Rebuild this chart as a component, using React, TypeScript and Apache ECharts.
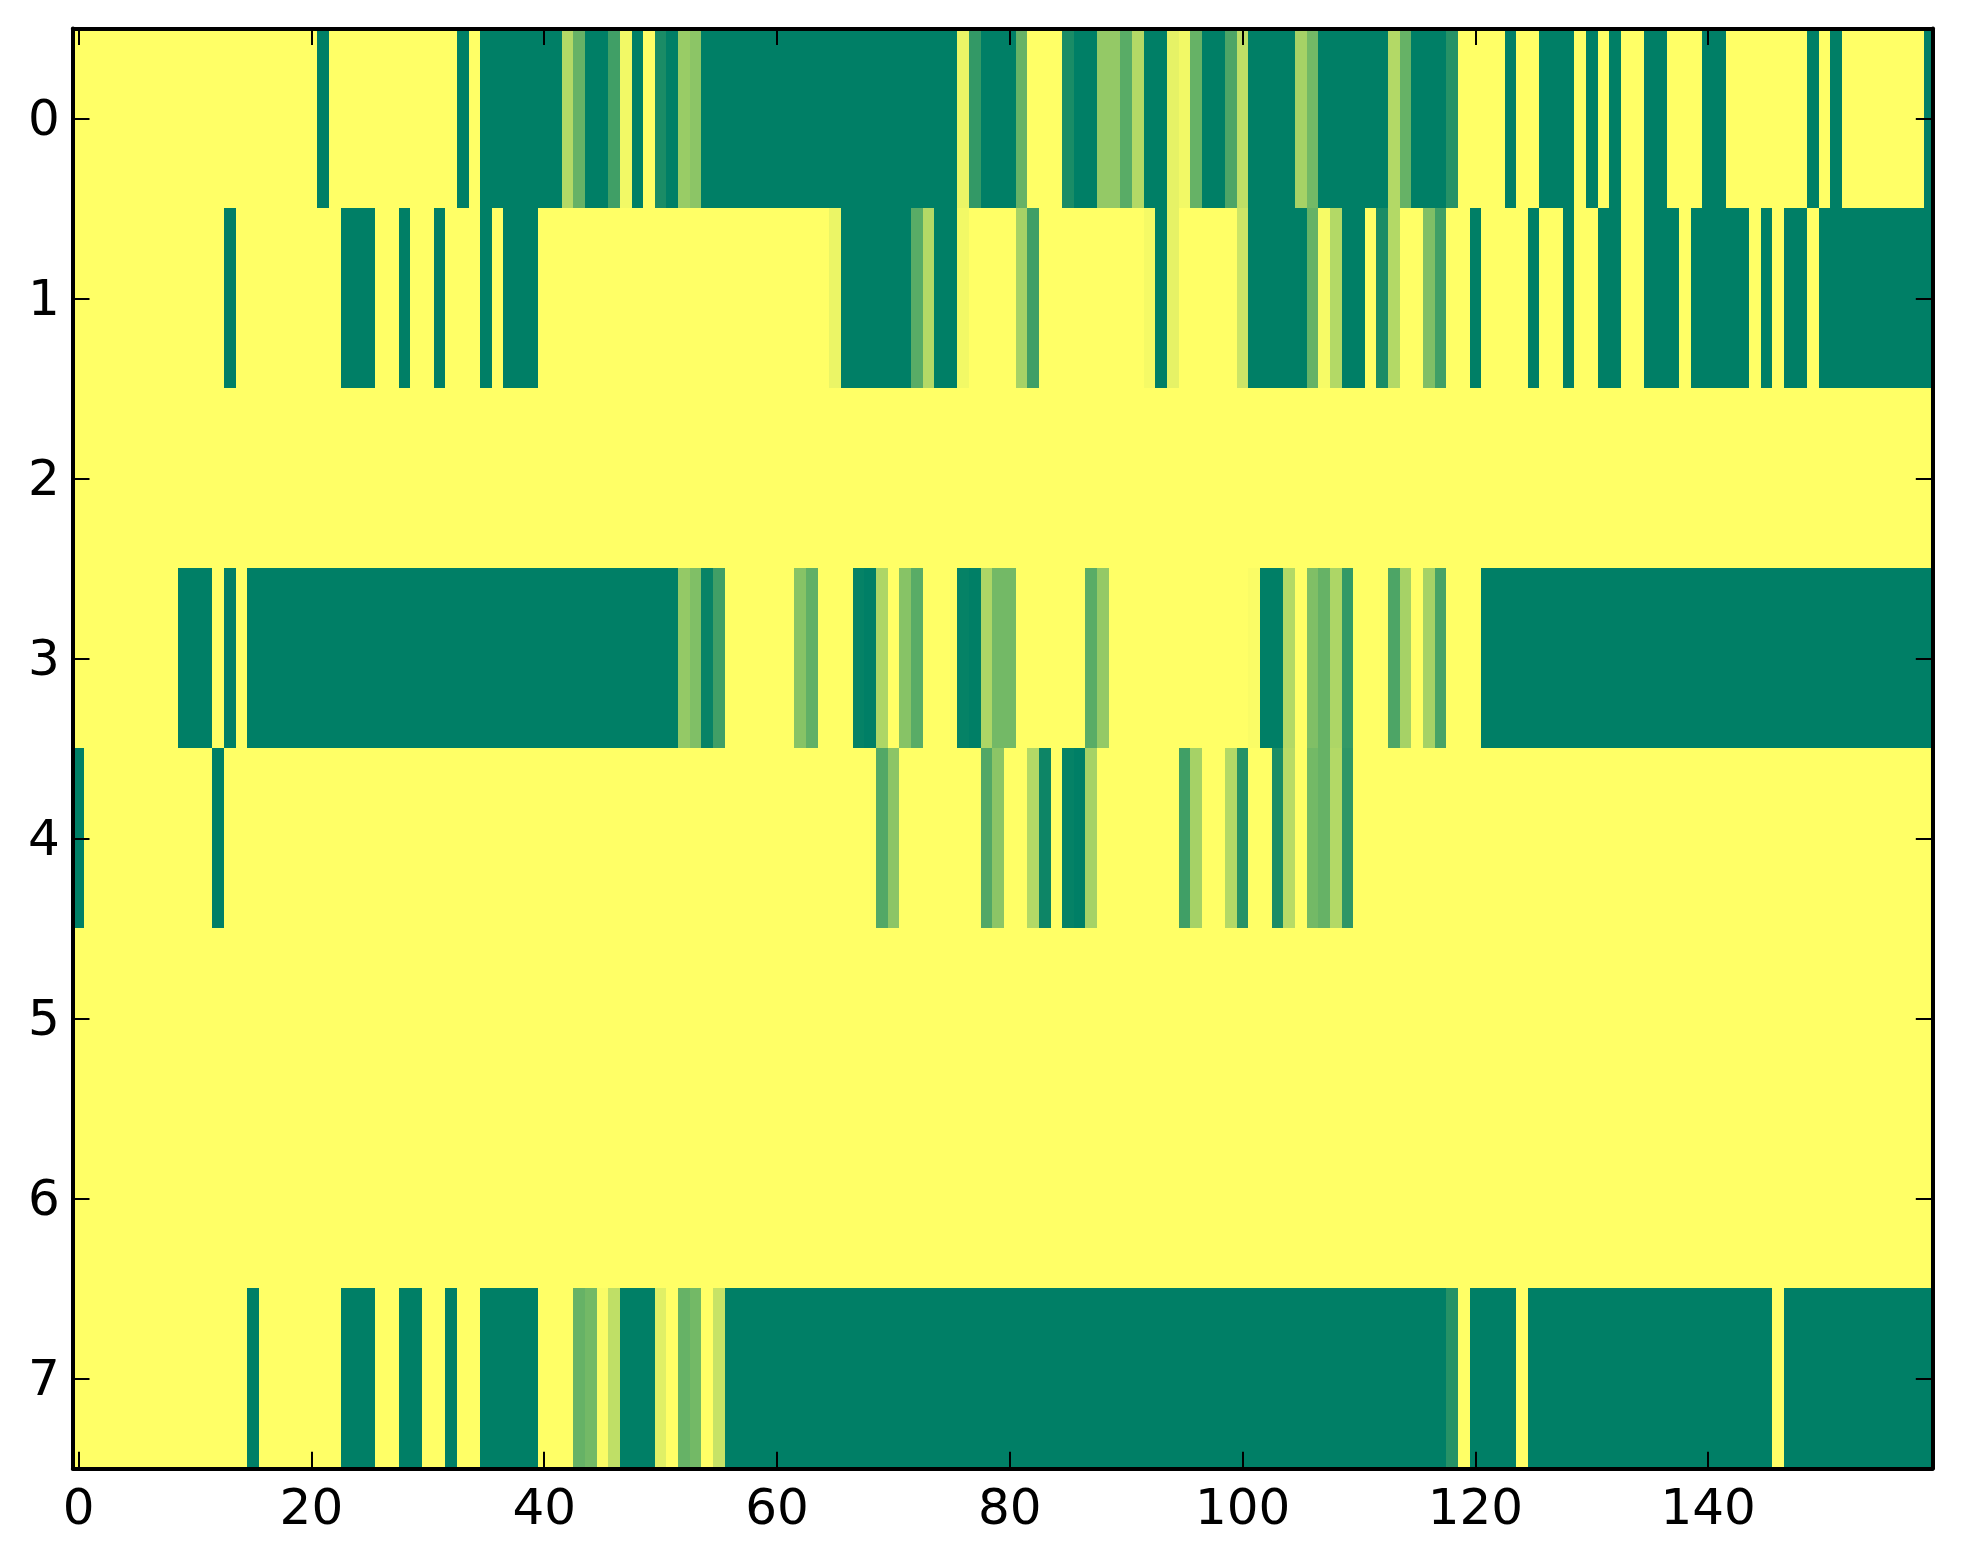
import React, { useEffect, useRef } from "react";
import * as echarts from "echarts";

const xTicks = [0, 20, 40, 60, 80, 100, 120, 140];
const yTicks = [0, 1, 2, 3, 4, 5, 6, 7];

const row0 = [
  0,0,0,0,0,0,0,0,0,0,
  0,0,0,0,0,0,0,0,0,0,
  0,1,0,0,0,0,0,0,0,0,
  0,0,0,1,0,1,1,1,1,1,
  1,1,.3,.6,1,1,.75,.05,1,0,
  .9,1,.4,.45,1,1,1,1,1,1,
  1,1,1,1,1,1,1,1,1,1,
  1,1,1,1,1,1,.08,.8,1,1,
  1,.6,0,0,0,.9,1,1,.42,.42,
  .65,.3,1,1,.1,.05,.6,1,1,.7,
  .25,1,1,1,1,.35,.55,1,1,1,
  1,1,1,.3,.6,1,1,1,.85,0,
  0,0,0,1,0,0,1,1,1,0,
  1,0,1,0,0,1,1,0,0,0,
  1,1,0,0,0,0,0,0,0,1,
  0,1,0,0,0,0,0,0,0,1,
];
const row1 = [
  0,0,0,0,0,0,0,0,0,0,
  0,0,0,1,0,0,0,0,0,0,
  0,0,0,1,1,1,0,0,1,0,
  0,1,0,0,0,1,0,1,1,1,
  0,0,0,0,0,0,0,0,0,0,
  0,0,0,0,0,0,0,0,0,0,
  0,0,0,0,0,.08,1,1,1,1,
  1,1,.65,.3,1,1,.05,0,0,0,
  0,.35,.75,0,0,0,0,0,0,0,
  0,0,.04,1,.1,0,0,0,0,0,
  .2,1,1,1,1,1,.6,.03,.3,1,
  1,0,.9,.3,0,0,.5,.75,0,0,
  1,0,0,0,0,1,0,0,1,0,
  0,1,1,0,0,1,1,1,0,1,
  1,1,1,1,0,1,0,1,1,0,
  1,1,1,1,1,1,1,1,1,1,
];
const row2 = [
  0,0,0,0,0,0,0,0,0,0, 0,0,0,0,0,0,0,0,0,0, 0,0,0,0,0,0,0,0,0,0, 0,0,0,0,0,0,0,0,0,0,
  0,0,0,0,0,0,0,0,0,0, 0,0,0,0,0,0,0,0,0,0, 0,0,0,0,0,0,0,0,0,0, 0,0,0,0,0,0,0,0,0,0,
  0,0,0,0,0,0,0,0,0,0, 0,0,0,0,0,0,0,0,0,0, 0,0,0,0,0,0,0,0,0,0, 0,0,0,0,0,0,0,0,0,0,
  0,0,0,0,0,0,0,0,0,0, 0,0,0,0,0,0,0,0,0,0, 0,0,0,0,0,0,0,0,0,0, 0,0,0,0,0,0,0,0,0,0,
];
const row3 = [
  0,0,0,0,0,0,0,0,0,1,
  1,1,0,1,0,1,1,1,1,1,
  1,1,1,1,1,1,1,1,1,1,
  1,1,1,1,1,1,1,1,1,1,
  1,1,1,1,1,1,1,1,1,1,
  1,1,.42,.5,.97,.75,0,0,0,0,
  0,0,.47,.62,0,0,0,.98,1,.32,
  0,.47,.65,0,0,0,.98,1,.32,.55,
  .55,0,0,0,0,0,0,.65,.42,0,
  0,0,0,0,0,0,0,0,0,0,
  0,.02,1,1,.3,0,.5,.6,.32,.8,
  0,0,0,.7,.35,0,.35,.72,0,0,
  0,1,1,1,1,1,1,1,1,1,
  1,1,1,1,1,1,1,1,1,1,
  1,1,1,1,1,1,1,1,1,1,
  1,1,1,1,1,1,1,1,1,1,
];
const row4 = [
  1,0,0,0,0,0,0,0,0,0,
  0,0,1,0,0,0,0,0,0,0,
  0,0,0,0,0,0,0,0,0,0,
  0,0,0,0,0,0,0,0,0,0,
  0,0,0,0,0,0,0,0,0,0,
  0,0,0,0,0,0,0,0,0,0,
  0,0,0,0,0,0,0,0,0,.68,
  .45,0,0,0,0,0,0,0,.68,.45,
  0,0,.3,.95,0,.98,1,.35,0,0,
  0,0,0,0,0,.75,.35,0,0,.3,
  .85,0,0,.9,.28,0,.55,.6,.3,.82,
  0,0,0,0,0,0,0,0,0,0,
  0,0,0,0,0,0,0,0,0,0,
  0,0,0,0,0,0,0,0,0,0,
  0,0,0,0,0,0,0,0,0,0,
  0,0,0,0,0,0,0,0,0,0,
];
const row5 = [
  0,0,0,0,0,0,0,0,0,0, 0,0,0,0,0,0,0,0,0,0, 0,0,0,0,0,0,0,0,0,0, 0,0,0,0,0,0,0,0,0,0,
  0,0,0,0,0,0,0,0,0,0, 0,0,0,0,0,0,0,0,0,0, 0,0,0,0,0,0,0,0,0,0, 0,0,0,0,0,0,0,0,0,0,
  0,0,0,0,0,0,0,0,0,0, 0,0,0,0,0,0,0,0,0,0, 0,0,0,0,0,0,0,0,0,0, 0,0,0,0,0,0,0,0,0,0,
  0,0,0,0,0,0,0,0,0,0, 0,0,0,0,0,0,0,0,0,0, 0,0,0,0,0,0,0,0,0,0, 0,0,0,0,0,0,0,0,0,0,
];
const row6 = [
  0,0,0,0,0,0,0,0,0,0, 0,0,0,0,0,0,0,0,0,0, 0,0,0,0,0,0,0,0,0,0, 0,0,0,0,0,0,0,0,0,0,
  0,0,0,0,0,0,0,0,0,0, 0,0,0,0,0,0,0,0,0,0, 0,0,0,0,0,0,0,0,0,0, 0,0,0,0,0,0,0,0,0,0,
  0,0,0,0,0,0,0,0,0,0, 0,0,0,0,0,0,0,0,0,0, 0,0,0,0,0,0,0,0,0,0, 0,0,0,0,0,0,0,0,0,0,
  0,0,0,0,0,0,0,0,0,0, 0,0,0,0,0,0,0,0,0,0, 0,0,0,0,0,0,0,0,0,0, 0,0,0,0,0,0,0,0,0,0,
];
const row7 = [
  0,0,0,0,0,0,0,0,0,0,
  0,0,0,0,0,1,0,0,0,0,
  0,0,0,1,1,1,0,0,1,1,
  0,0,1,0,0,1,1,1,1,1,
  0,0,0,.6,.55,.02,.25,1,1,1,
  .12,0,.6,.55,0,.22,1,1,1,1,
  1,1,1,1,1,1,1,1,1,1,
  1,1,1,1,1,1,1,1,1,1,
  1,1,1,1,1,1,1,1,1,1,
  1,1,1,1,1,1,1,1,1,1,
  1,1,1,1,1,1,1,1,1,1,
  1,1,1,1,1,1,1,1,.85,0,
  1,1,1,1,0,1,1,1,1,1,
  1,1,1,1,1,1,1,1,1,1,
  1,1,1,1,1,1,0,1,1,1,
  1,1,1,1,1,1,1,1,1,1,
];
const rows = [row0, row1, row2, row3, row4, row5, row6, row7];

const TEXT = { color: "#000", fontFamily: "DejaVu Sans", fontSize: 50 };

function renderCell(_: unknown, api: any) {
  const col = api.value(0);
  const row = api.value(1);
  const a = api.coord([col - 0.5, row - 0.5]);
  const b = api.coord([col + 0.5, row + 0.5]);
  const x = Math.round(a[0]);
  const y = Math.round(a[1]);
  return {
    type: "rect",
    shape: { x, y, width: Math.round(b[0]) - x, height: Math.round(b[1]) - y },
    style: { fill: api.visual("color") },
  };
}

export default function App() {
  const ref = useRef<HTMLDivElement>(null);
  useEffect(() => {
    const chart = echarts.init(ref.current!, null, { renderer: "svg" });
    const data: number[][] = [];
    rows.forEach((r, y) => r.forEach((v, x) => data.push([x, y, v])));
    const xBase = {
      type: "value",
      min: -0.5,
      max: 159.27,
      z: 10,
      splitLine: { show: false },
      axisLine: { show: true, onZero: false, lineStyle: { color: "#000", width: 4 } },
      axisTick: { show: true, inside: true, length: 16.7, lineStyle: { color: "#000", width: 2 }, customValues: xTicks },
    };
    const yBase = {
      type: "value",
      min: -0.5,
      max: 7.5,
      inverse: true,
      z: 10,
      splitLine: { show: false },
      axisLine: { show: true, onZero: false, lineStyle: { color: "#000", width: 4 } },
      axisTick: { show: true, inside: true, length: 16.7, lineStyle: { color: "#000", width: 2 }, customValues: yTicks },
    };
    chart.setOption({
      animation: false,
      backgroundColor: "#fff",
      grid: { left: 72.8, top: 28.4, width: 1859.7, height: 1440, containLabel: false },
      xAxis: [
        { ...xBase, position: "bottom", axisLabel: { ...TEXT, show: true, margin: 14, customValues: xTicks } },
        { ...xBase, position: "top", axisLabel: { show: false } },
      ],
      yAxis: [
        { ...yBase, position: "left", axisLabel: { ...TEXT, show: true, margin: 13, customValues: yTicks } },
        { ...yBase, position: "right", axisLabel: { show: false } },
      ],
      visualMap: {
        show: false,
        type: "continuous",
        dimension: 2,
        min: 0,
        max: 1,
        inRange: { color: ["#ffff66", "#007f66"] },
      },
      series: [
        {
          type: "custom",
          coordinateSystem: "cartesian2d",
          xAxisIndex: 0,
          yAxisIndex: 0,
          clip: true,
          silent: true,
          encode: { x: 0, y: 1 },
          data,
          renderItem: renderCell,
        },
      ],
    });
    return () => chart.dispose();
  }, []);
  return <div ref={ref} style={{ position: "fixed", left: 0, top: 0, width: 1963, height: 1564 }} />;
}
